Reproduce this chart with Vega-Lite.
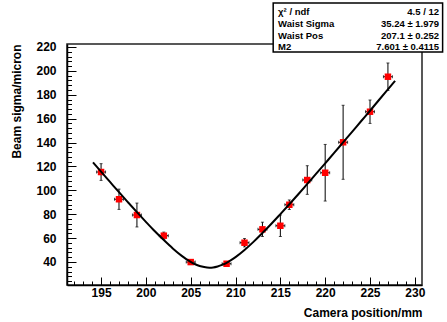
{
  "$schema": "https://vega.github.io/schema/vega-lite/v6.json",
  "width": 355,
  "height": 241,
  "autosize": {"type": "none"},
  "padding": {"left": 67, "top": 44, "right": 25, "bottom": 37},
  "background": "white",
  "config": {
    "view": {"stroke": "#222", "strokeWidth": 1.5},
    "font": "Liberation Sans",
    "axis": {"labelFont": "Liberation Sans", "titleFont": "Liberation Sans", "labelFontWeight": "bold", "titleFontWeight": "bold", "labelColor": "black", "titleColor": "black", "domainColor": "black", "tickColor": "black", "grid": false}
  },
  "datasets": {
    "pts": [
      {"x": 195, "y": 115.3, "ey": 7, "ex": 0.5},
      {"x": 197, "y": 92.5, "ey": 8.5, "ex": 0.5},
      {"x": 199, "y": 79.3, "ey": 10, "ex": 0.5},
      {"x": 202, "y": 62, "ey": 3, "ex": 0.5},
      {"x": 205, "y": 39.9, "ey": 1, "ex": 0.5},
      {"x": 209, "y": 38.5, "ey": 1.5, "ex": 0.5},
      {"x": 211, "y": 56.1, "ey": 3.5, "ex": 0.5},
      {"x": 213, "y": 67.3, "ey": 6, "ex": 0.5},
      {"x": 215, "y": 70.3, "ey": 9, "ex": 0.5},
      {"x": 216, "y": 87.9, "ey": 4, "ex": 0.5},
      {"x": 218, "y": 108.6, "ey": 12, "ex": 0.5},
      {"x": 220, "y": 114.7, "ey": 23.7, "ex": 0.5},
      {"x": 222, "y": 140.2, "ey": 31, "ex": 0.5},
      {"x": 225, "y": 165.8, "ey": 9.8, "ex": 0.5},
      {"x": 227, "y": 195.1, "ey": 11.5, "ex": 0.5}
    ],
    "fit": [
      {"x": 194.1, "y": 123.4}, {"x": 195, "y": 115.6}, {"x": 196, "y": 107.0}, {"x": 197, "y": 98.4},
      {"x": 198, "y": 90.0}, {"x": 199, "y": 81.7}, {"x": 200, "y": 73.6}, {"x": 201, "y": 65.7},
      {"x": 202, "y": 58.3}, {"x": 203, "y": 51.3}, {"x": 204, "y": 45.1}, {"x": 204.5, "y": 42.4},
      {"x": 205, "y": 40.1}, {"x": 205.5, "y": 38.1}, {"x": 206, "y": 36.6}, {"x": 206.5, "y": 35.7},
      {"x": 207.1, "y": 35.24}, {"x": 207.5, "y": 35.4}, {"x": 208, "y": 36.2}, {"x": 208.5, "y": 37.5},
      {"x": 209, "y": 39.3}, {"x": 209.5, "y": 41.5}, {"x": 210, "y": 44.0}, {"x": 211, "y": 50.0},
      {"x": 212, "y": 56.8}, {"x": 213, "y": 64.2}, {"x": 214, "y": 72.0}, {"x": 215, "y": 80.1},
      {"x": 216, "y": 88.3}, {"x": 217, "y": 96.7}, {"x": 218, "y": 105.3}, {"x": 219, "y": 113.9},
      {"x": 220, "y": 122.6}, {"x": 221, "y": 131.3}, {"x": 222, "y": 140.1}, {"x": 223, "y": 148.9},
      {"x": 224, "y": 157.8}, {"x": 225, "y": 166.6}, {"x": 226, "y": 175.6}, {"x": 227, "y": 184.5},
      {"x": 227.8, "y": 191.6}
    ],
    "box": [{"x1": 214.2, "x2": 233.1, "y1": 256.8, "y2": 215.8}],
    "stats": [
      {"lx": 214.75, "rx": 232.7, "y": 248.9, "label": "χ² / ndf", "value": "4.5 / 12"},
      {"lx": 214.75, "rx": 232.7, "y": 239.3, "label": "Waist Sigma", "value": "35.24 ± 1.979"},
      {"lx": 214.75, "rx": 232.7, "y": 229.6, "label": "Waist Pos", "value": "207.1 ± 0.252"},
      {"lx": 214.75, "rx": 232.7, "y": 220.0, "label": "M2", "value": "7.601 ± 0.4115"}
    ]
  },
  "resolve": {"axis": {"x": "independent", "y": "independent"}},
  "layer": [
    {
      "data": {"name": "fit"},
      "mark": {"type": "point", "opacity": 0},
      "encoding": {
        "x": {"field": "x", "type": "quantitative", "scale": {"domain": [191.2, 230.8], "nice": false, "zero": false},
          "axis": {"orient": "bottom", "values": [192,193,194,196,197,198,199,201,202,203,204,206,207,208,209,211,212,213,214,216,217,218,219,221,222,223,224,226,227,228,229], "labels": false, "domain": false, "tickSize": -4, "tickWidth": 1, "title": null}},
        "y": {"field": "y", "type": "quantitative", "scale": {"domain": [20.7, 222.5], "nice": false, "zero": false},
          "axis": {"orient": "left", "values": [24,28,32,36,44,48,52,56,64,68,72,76,84,88,92,96,104,108,112,116,124,128,132,136,144,148,152,156,164,168,172,176,184,188,192,196,204,208,212,216], "labels": false, "domain": false, "tickSize": -4.5, "tickWidth": 1, "title": null}}
      }
    },
    {
      "data": {"name": "pts"},
      "mark": {"type": "errorbar", "ticks": {"size": 3, "thickness": 1, "color": "black"}, "rule": {"strokeWidth": 1, "color": "black"}},
      "encoding": {
        "x": {"field": "x", "type": "quantitative", "axis": null},
        "y": {"field": "y", "type": "quantitative", "axis": null},
        "yError": {"field": "ey"}
      }
    },
    {
      "data": {"name": "pts"},
      "mark": {"type": "errorbar", "ticks": {"size": 3, "thickness": 1, "color": "black"}, "rule": {"strokeWidth": 1, "color": "black"}},
      "encoding": {
        "y": {"field": "y", "type": "quantitative", "axis": null},
        "x": {"field": "x", "type": "quantitative", "axis": null},
        "xError": {"field": "ex"}
      }
    },
    {
      "data": {"name": "pts"},
      "mark": {"type": "square", "color": "#ff0000", "opacity": 1, "size": 42},
      "encoding": {
        "x": {"field": "x", "type": "quantitative",
          "axis": {"orient": "bottom", "values": [195,200,205,210,215,220,225,230], "tickSize": -8, "tickWidth": 1, "domainWidth": 1.5, "labelFontSize": 12, "labelPadding": 10, "title": "Camera position/mm", "titleFontSize": 12, "titleAnchor": "end", "titlePadding": 9}},
        "y": {"field": "y", "type": "quantitative",
          "axis": {"orient": "left", "values": [40,60,80,100,120,140,160,180,200,220], "tickSize": -9, "tickWidth": 1, "domainWidth": 1.5, "labelFontSize": 12, "labelPadding": 20, "title": "Beam sigma/micron", "titleFontSize": 12, "titleAnchor": "end", "titlePadding": 12}}
      }
    },
    {
      "data": {"name": "fit"},
      "mark": {"type": "line", "color": "black", "strokeWidth": 2, "interpolate": "monotone"},
      "encoding": {
        "x": {"field": "x", "type": "quantitative", "axis": null},
        "y": {"field": "y", "type": "quantitative", "axis": null}
      }
    },
    {
      "data": {"name": "box"},
      "mark": {"type": "rect", "fill": "white", "stroke": "black", "strokeWidth": 1.5},
      "encoding": {
        "x": {"field": "x1", "type": "quantitative", "axis": null},
        "x2": {"field": "x2"},
        "y": {"field": "y1", "type": "quantitative", "axis": null},
        "y2": {"field": "y2"}
      }
    },
    {
      "data": {"name": "stats"},
      "mark": {"type": "text", "align": "left", "baseline": "middle", "fontWeight": "bold", "fontSize": 9.5, "font": "Liberation Sans", "color": "black"},
      "encoding": {
        "x": {"field": "lx", "type": "quantitative", "axis": null},
        "y": {"field": "y", "type": "quantitative", "axis": null},
        "text": {"field": "label"}
      }
    },
    {
      "data": {"name": "stats"},
      "mark": {"type": "text", "align": "right", "baseline": "middle", "fontWeight": "bold", "fontSize": 9.5, "font": "Liberation Sans", "color": "black"},
      "encoding": {
        "x": {"field": "rx", "type": "quantitative", "axis": null},
        "y": {"field": "y", "type": "quantitative", "axis": null},
        "text": {"field": "value"}
      }
    }
  ]
}
